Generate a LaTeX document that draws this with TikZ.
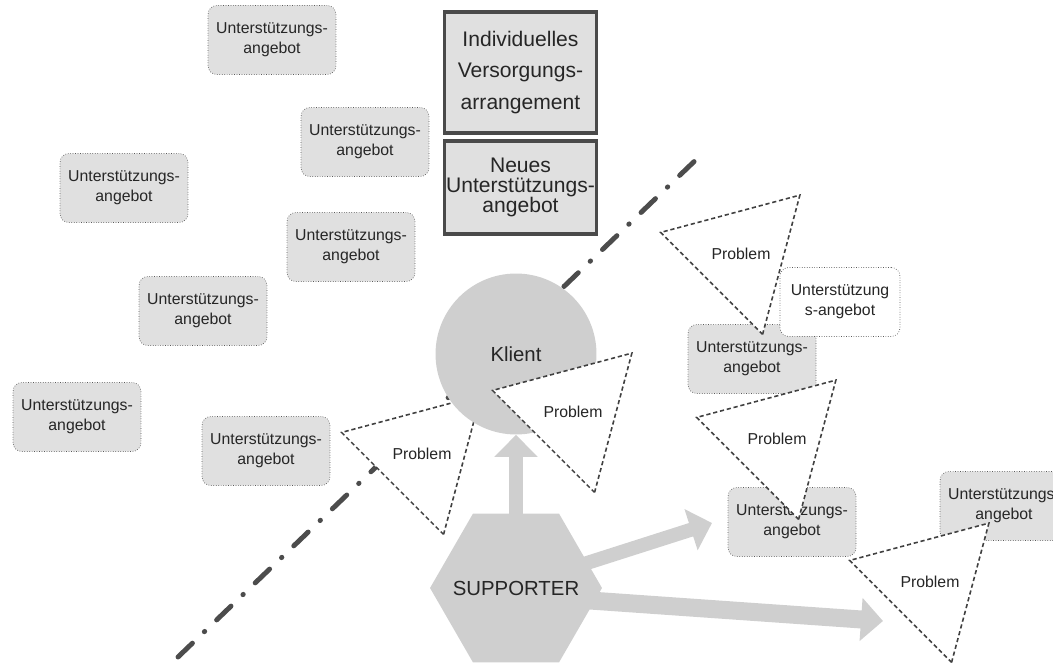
\documentclass[tikz,border=0pt]{standalone}
\usepackage{fontspec}
\setmainfont{Liberation Sans}
\usetikzlibrary{shapes.geometric,arrows.meta,backgrounds}
\definecolor{boxgray}{HTML}{E0E0E0}
\definecolor{shadegray}{HTML}{CFCFCF}
\definecolor{edgegray}{HTML}{4A4A4A}
\begin{document}
\begin{tikzpicture}[x=0.02cm,y=-0.02cm,text=black!85,
  offer/.style={rectangle,rounded corners=5pt,draw=black!65,densely dotted,fill=boxgray,
    minimum width=2.56cm,minimum height=1.38cm,align=center,inner sep=1pt,
    font=\fontsize{9}{11.4}\selectfont},
  plan/.style={rectangle,draw=edgegray,line width=1.8pt,fill=boxgray,
    minimum width=3.04cm,align=center,inner sep=1pt},
  problem/.style={regular polygon,regular polygon sides=3,shape border rotate=195,
    minimum size=3.23cm,draw=black!75,dash pattern=on 2.4pt off 1.6pt,line width=0.9pt,
    fill=white,inner sep=0pt,font=\fontsize{9}{11}\selectfont},
  client/.style={circle,fill=shadegray,minimum size=3.22cm,inner sep=0pt,
    font=\fontsize{11.6}{14}\selectfont},
  helper/.style={regular polygon,regular polygon sides=6,minimum size=3.44cm,
    fill=shadegray,inner sep=0pt},
  bigtext/.style={font=\fontsize{11.6}{14}\selectfont,inner sep=0pt},
  bigarrow/.style={shadegray,line width=#1,-{Triangle[width=0.84cm,length=0.44cm]}},
  divider/.style={black!70,line width=2.8pt,line cap=round,
    dash pattern=on 0.4cm off 0.33cm on 0.01cm off 0.33cm}]
\useasboundingbox (0,0) rectangle (1053,668);

\node[offer] (ang1) at (272,40) {Unterstützungs-\\angebot};
\node[offer] (ang2) at (365,142) {Unterstützungs-\\angebot};
\node[offer] (ang3) at (124,188) {Unterstützungs-\\angebot};
\node[offer] (ang4) at (351,247) {Unterstützungs-\\angebot};
\node[offer] (ang5) at (203,311) {Unterstützungs-\\angebot};
\node[offer] (ang6) at (77,417) {Unterstützungs-\\angebot};
\node[offer] (ang7) at (266,451) {Unterstützungs-\\angebot};
\node[offer] (ang8) at (752,359) {Unterstützungs-\\angebot};
\node[offer] (ang9) at (792,522) {Unterstützungs-\\angebot};
\node[offer] (ang10) at (1004,506) {Unterstützungs-\\angebot};

\node[plan,minimum height=2.42cm,font=\fontsize{12}{18}\selectfont] (indiv) at (520.5,72.5)
  {Individuelles\\Versorgungs-\\arrangement};
\node[plan,minimum height=1.86cm,font=\fontsize{12}{11.5}\selectfont] (neues) at (520.5,187.5)
  {Neues\\Unterstützungs-\\angebot};

\node[problem] (prob1) at (422,454) {Problem};
\node[client] (klient) at (516,354) {Klient};
\node[problem] (prob2) at (573,412) {Problem};
\node[helper] (supp) at (516,588) {};
\node[bigtext] (supplabel) at (supp.center) {SUPPORTER};

\node[problem] (prob3) at (741,254) {Problem};
\node[offer,fill=white,minimum width=2.4cm] (neu) at (840,302) {Unterstützung\\s-angebot};
\node[problem] (prob4) at (777,439) {Problem};
\node[problem] (prob5) at (930,582) {Problem};

\coordinate (d1) at (178,657);
\coordinate (d2) at (703,153);
\coordinate (tip1) at (712,523);
\coordinate (tip2) at (883,621);

\begin{scope}[on background layer]
\draw[divider] (d1) -- (d2);
\draw[bigarrow=0.28cm] (supp.center) -- (klient.south);
\draw[bigarrow=0.28cm] (540,578) -- (tip1);
\draw[bigarrow=0.36cm] (540,597) -- (tip2);
\end{scope}
\end{tikzpicture}
\end{document}
